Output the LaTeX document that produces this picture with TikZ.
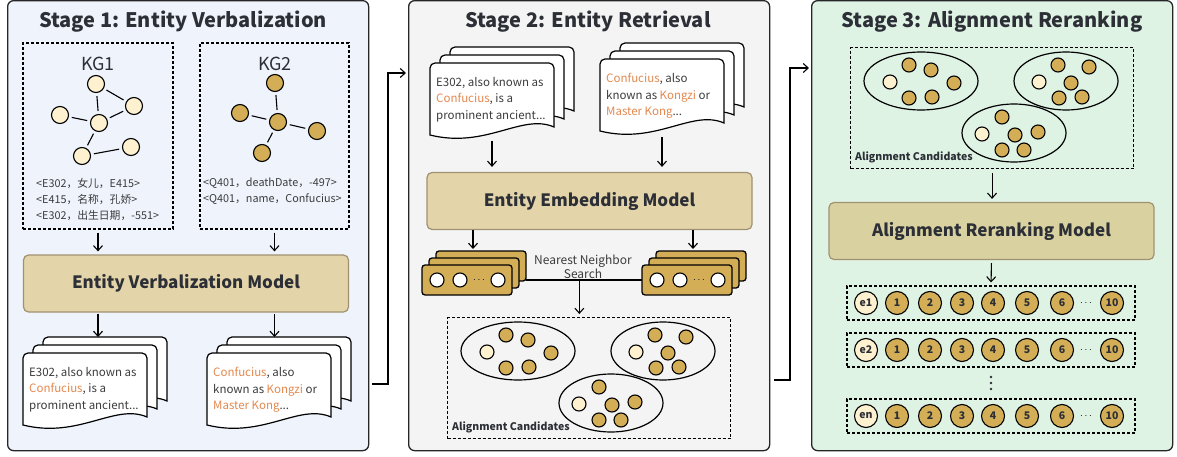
\documentclass[tikz,border=0pt]{standalone}
\usepackage{fontspec}
\setmainfont{Noto Sans CJK SC}
\usetikzlibrary{arrows.meta, positioning}

\definecolor{stageblue}{HTML}{EEF3FC}
\definecolor{stagegray}{HTML}{F4F4F4}
\definecolor{stagegreen}{HTML}{DFF3E5}
\definecolor{modeltan}{HTML}{E3D4A9}
\definecolor{modelolive}{HTML}{D9D2A0}
\definecolor{modeledge}{HTML}{A09270}
\definecolor{gold}{HTML}{D3AE56}
\definecolor{cream}{HTML}{FEF1CF}
\definecolor{namecol}{HTML}{E4894F}
\definecolor{ink}{HTML}{2C2F36}
\definecolor{greytext}{HTML}{3C3C3C}

\newcommand{\nm}[1]{\textcolor{namecol}{#1}}

\tikzset{
  stagebox/.style = {draw=black!85, line width=1.3pt, rounded corners=6pt,
    minimum width=361pt, minimum height=450pt, anchor=north west},
  stagetitle/.style = {font=\fontsize{20}{24}\selectfont\bfseries, text=ink, anchor=base},
  dashbox/.style = {draw, line width=1.1pt, dash pattern=on 3pt off 2pt, inner sep=0pt},
  modelbox/.style = {draw=modeledge, line width=1.2pt, rounded corners=5pt,
    minimum width=325pt, minimum height=57pt,
    font=\fontsize{17}{20}\selectfont\bfseries, text=ink},
  arr/.style = {-{Straight Barb[length=5pt, width=9pt]}, line width=1.1pt},
  kgnode/.style = {circle, draw, line width=1.1pt, minimum size=17pt, inner sep=0pt},
  kgedge/.style = {line width=1.1pt, shorten <=3pt, shorten >=3pt},
  dot/.style = {circle, draw, line width=1.1pt, minimum size=14pt, inner sep=0pt},
  rank/.style = {circle, draw, line width=1.1pt, fill=gold, minimum size=23pt, inner sep=0pt,
    font=\fontsize{10.5}{10.5}\selectfont\bfseries, text=ink},
  page/.style = {draw, fill=white, line width=1.2pt},
  doctext/.style = {anchor=north west, inner sep=0pt, align=left,
    font=\fontsize{11.5}{16.5}\selectfont, text=greytext},
  triple/.style = {anchor=west, inner sep=0pt, align=left,
    font=\fontsize{10.8}{16}\selectfont, text=greytext},
  vec/.style = {draw, fill=gold, line width=1.3pt, rounded corners=3pt},
  pics/docstack/.style = {code = {
    \foreach \s in {2,1,0}
      \draw[page, shift={(10*\s,-8*\s)}] (0,72) [rounded corners=5pt] -- (0,0) -- (124,0)
        [sharp corners] -- (124,64) .. controls (92,50) and (56,86) .. (0,72) -- cycle;
    \coordinate (-top) at (62,-16);
    \coordinate (-bot) at (62,72);
    \node[doctext] (-txt) at (6,14) {#1};
  }},
  pics/vecstack/.style = {code = {
    \foreach \s in {2,1}
      \draw[vec, shift={(7*\s,-7*\s)}] (0,0) rectangle (90,30);
    \draw[vec] (0,0) rectangle (90,30);
    \node[dot, fill=white] (-a) at (15,15) {};
    \node[dot, fill=white] (-b) at (38,15) {};
    \node[font=\bfseries] (-dots) at (57,15) {$\cdots$};
    \node[dot, fill=white] (-c) at (76,15) {};
    \coordinate (-top) at (51,-14);
    \coordinate (-left) at (0,15);
    \coordinate (-right) at (104,15);
  }},
  pics/candgroup/.style = {code = {
    \node[dashbox, minimum width=283pt, minimum height=121pt, anchor=north west] (-box) at (0,0) {};
    \draw[line width=1.2pt] (71,34) ellipse [x radius=57, y radius=29];
    \draw[line width=1.2pt] (216,34) ellipse [x radius=52, y radius=29];
    \draw[line width=1.2pt] (164,86) ellipse [x radius=52, y radius=29];
    \foreach \x/\y in {40/35, 189/35, 132/87}
      \node[dot, fill=cream] at (\x,\y) {};
    \foreach \x/\y in {59/18, 81/23, 104/36, 59/51, 82/50,
                       208/18, 239/20, 221/36, 209/51, 232/50,
                       152/70, 165/88, 188/85, 152/103, 174/103}
      \node[dot, fill=gold] at (\x,\y) {};
    \node[font=\fontsize{10.5}{12}\selectfont\bfseries, text=ink, anchor=west, inner sep=0pt]
      (-lbl) at (5,110) {Alignment Candidates};
  }}
}

\begin{document}
\begin{tikzpicture}[x=1pt, y=-1pt]
  \useasboundingbox (0,0) rectangle (1177,457);

  % stages
  \node[stagebox, fill=stageblue] (stage1) at (7,0) {};
  \node[stagebox, fill=stagegray] (stage2) at (408,0) {};
  \node[stagebox, fill=stagegreen] (stage3) at (811,0) {};
  \node[stagetitle] (title1) at (183,28) {Stage 1: Entity Verbalization};
  \node[stagetitle] (title2) at (588,28) {Stage 2: Entity Retrieval};
  \node[stagetitle] (title3) at (992,28) {Stage 3: Alignment Reranking};

  % stage 1
  \node[dashbox, minimum width=150pt, minimum height=186pt] (kg1) at (98,136) {};
  \node[dashbox, minimum width=149pt, minimum height=186pt] (kg2) at (274.5,136) {};
  \node[font=\fontsize{18}{20}\selectfont, text=ink] (kg1lbl) at (98,64) {KG1};
  \node[font=\fontsize{18}{20}\selectfont, text=ink] (kg2lbl) at (275,64) {KG2};

  \node[kgnode, fill=cream] (a1) at (96,84) {};
  \node[kgnode, fill=cream] (a2) at (134,106) {};
  \node[kgnode, fill=cream] (a3) at (60,115) {};
  \node[kgnode, fill=cream] (a4) at (99,123) {};
  \node[kgnode, fill=cream] (a5) at (82,156) {};
  \node[kgnode, fill=cream] (a6) at (131,147) {};
  \draw[kgedge] (a1) -- (a2);
  \draw[kgedge] (a1) -- (a4);
  \draw[kgedge] (a3) -- (a4);
  \draw[kgedge] (a4) -- (a2);
  \draw[kgedge] (a4) -- (a5);
  \draw[kgedge] (a5) -- (a6);

  \node[kgnode, fill=gold] (b1) at (275,83) {};
  \node[kgnode, fill=gold] (b2) at (240,113) {};
  \node[kgnode, fill=gold] (b3) at (278,122) {};
  \node[kgnode, fill=gold] (b4) at (317,131) {};
  \node[kgnode, fill=gold] (b5) at (262,153) {};
  \foreach \b in {b1,b2,b4,b5}
    \draw[kgedge] (b3) -- (\b);

  \node[triple] (tri1) at (36,199) {<E302，女儿，E415>\\<E415，名称，孔娇>\\<E302，出生日期，-551>};
  \node[triple] (tri2) at (203,191) {<Q401，deathDate，-497>\\<Q401，name，Confucius>};

  \node[modelbox, fill=modeltan] (vmodel) at (186,283.5) {Entity Verbalization Model};
  \draw[arr, shorten <=3pt, shorten >=3pt] (kg1.south) -- (kg1.south |- vmodel.north);
  \draw[arr, shorten <=3pt, shorten >=3pt] (kg2.south) -- (kg2.south |- vmodel.north);

  \pic (d1) at (23,353) {docstack={E302, also known as\\\nm{Confucius}, is a\\prominent ancient...}};
  \pic (d2) at (207,353) {docstack={\nm{Confucius}, also\\known as \nm{Kongzi} or\\\nm{Master Kong}...}};
  \draw[arr, shorten <=1pt] (vmodel.south -| kg1.south) -- (kg1.south |- d1-top);
  \draw[arr, shorten <=1pt] (vmodel.south -| kg2.south) -- (kg2.south |- d2-top);

  % stage 1 -> stage 2
  \coordinate (j1) at (372,384);
  \coordinate (k1) at (406,73);
  \draw[arr] (j1) -- ++(16,0) |- (k1);

  % stage 2
  \pic (d3) at (430,63) {docstack={E302, also known as\\\nm{Confucius}, is a\\prominent ancient...}};
  \pic (d4) at (600,59) {docstack={\nm{Confucius}, also\\known as \nm{Kongzi} or\\\nm{Master Kong}...}};
  \node[modelbox, fill=modeltan] (emodel) at (589.5,201) {Entity Embedding Model};
  \draw[arr, shorten <=6pt, shorten >=5pt] (d3-bot) -- (d3-bot |- emodel.north);
  \draw[arr, shorten <=6pt, shorten >=5pt] (d4-bot) -- (d4-bot |- emodel.north);

  \pic (v1) at (422,265) {vecstack};
  \pic (v2) at (642,265) {vecstack};
  \draw[arr, shorten >=2pt] (emodel.south -| v1-top) -- (v1-top);
  \draw[arr, shorten >=2pt] (emodel.south -| v2-top) -- (v2-top);
  \draw[line width=1.1pt] (v1-right) -- coordinate[pos=0.46] (nn) (v2-left);
  \node[font=\fontsize{12}{11.5}\selectfont, text=greytext, align=center] (nnlbl) at (583,267) {Nearest Neighbor\\Search};

  \pic (c2) at (447,317) {candgroup};
  \draw[arr, shorten >=3pt] (nn) -- (nn |- c2-box.north);

  % stage 2 -> stage 3
  \coordinate (j2) at (774,380);
  \coordinate (k2) at (809,68);
  \draw[arr] (j2) -- ++(16,0) |- (k2);

  % stage 3
  \pic (c3) at (850,47) {candgroup};
  \node[modelbox, fill=modelolive] (rmodel) at (991.5,231) {Alignment Reranking Model};
  \draw[arr, shorten <=4pt, shorten >=3pt] (c3-box.south) -- (c3-box.south |- rmodel.north);

  \foreach \r/\e/\y in {1/e1/303, 2/e2/350, 3/en/416} {
    \node[dashbox, minimum width=288pt, minimum height=34pt] (row\r) at (991,\y) {};
    \node[rank, fill=cream] (row\r-e) at (866,\y) {\e};
    \foreach \k/\x in {1/897, 2/930, 3/962, 4/993, 5/1027, 6/1062, 10/1112}
      \node[rank] (row\r-\k) at (\x,\y) {\k};
    \node[font=\bfseries] (row\r-dots) at (1086,\y) {$\cdots$};
  }
  \foreach \dy in {-6,0,6}
    \fill[ink] (991,383+\dy) circle (1.3pt);
  \draw[arr, shorten <=3pt, shorten >=3pt] (rmodel.south) -- (row1.north);
\end{tikzpicture}
\end{document}
